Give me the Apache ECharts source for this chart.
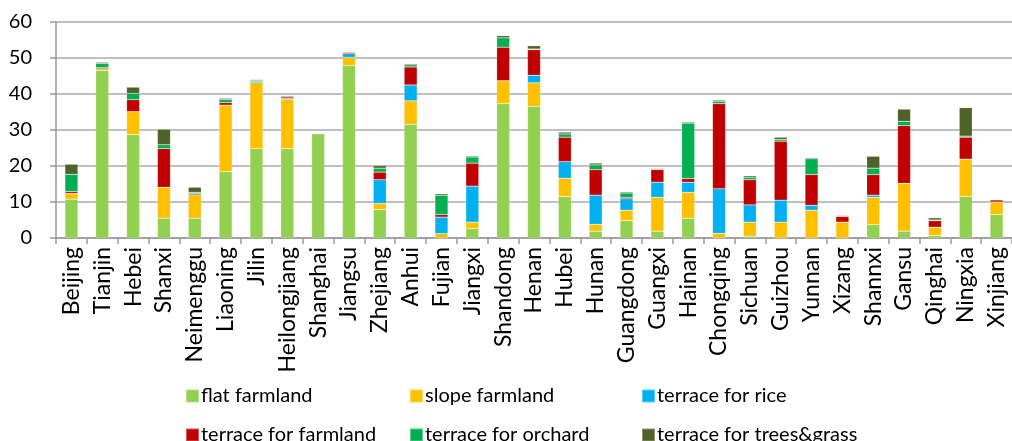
<!DOCTYPE html>
<html><head><meta charset="utf-8">
<script src="https://cdn.jsdelivr.net/npm/echarts@6/dist/echarts.min.js"></script>
<style>html,body{margin:0;padding:0;background:#fff}#c{width:1012px;height:441px}</style>
</head><body><div id="c"></div>
<script>
const categories = ["Beijing","Tianjin","Hebei","Shanxi","Neimenggu","Liaoning","Jilin","Heilongjiang","Shanghai","Jiangsu","Zhejiang","Anhui","Fujian","Jiangxi","Shandong","Henan","Hubei","Hunan","Guangdong","Guangxi","Hainan","Chongqing","Sichuan","Guizhou","Yunnan","Xizang","Shannxi","Gansu","Qinghai","Ningxia","Xinjiang"];
const flatFarmland   = [10.8,46.5,28.7,5.5,5.5,18.4,24.8,24.8,29.0,47.9,7.9,31.6,0,2.6,37.3,36.6,11.5,1.9,4.8,1.9,5.5,0,0.5,0,0,0,3.7,1.9,0.7,11.5,6.5];
const slopeFarmland  = [1.6,0.5,6.4,8.6,6.5,18.5,18.3,13.8,0,2.3,1.7,6.5,1.2,1.8,6.4,6.5,5.1,1.9,2.9,9.4,7.2,1.3,3.9,4.4,7.7,4.4,7.6,13.3,2.3,10.4,3.5];
const terraceRice    = [0,0,0,0,0,0,0.4,0.3,0,1.0,6.6,4.4,4.6,10.0,0,2.1,4.6,8.1,3.2,4.2,2.8,12.4,4.8,6.1,1.4,0,0.6,0,0,0,0];
const terraceFarm    = [0.5,0.3,3.3,10.7,0.3,0.7,0,0.5,0,0.4,2.1,5.0,0.7,6.4,9.3,7.1,6.8,7.1,0.4,3.5,1.0,23.6,7.0,16.4,8.5,1.6,5.7,16.0,1.8,6.1,0.6];
const terraceOrchard = [4.8,1.2,1.8,1.1,0.4,0.9,0.2,0,0,0,1.1,0.6,5.4,1.7,2.6,0.2,0.9,1.3,1.2,0.2,15.4,0.7,0.7,0.5,4.4,0.1,1.8,1.2,0.2,0.3,0];
const terraceTrees   = [2.8,0.3,1.7,4.3,1.4,0.3,0.3,0,0,0,0.7,0.3,0.4,0.3,0.6,0.9,0.5,0.5,0.3,0.2,0.3,0.3,0.4,0.6,0.3,0.2,3.3,3.4,0.6,7.9,0];
const seriesNames = ["flat farmland","slope farmland","terrace for rice","terrace for farmland","terrace for orchard","terrace for trees&grass"];
const seriesColors = ["#92D050","#FFC000","#00B0F0","#C00000","#00B050","#4F6228"];
const seriesData = [flatFarmland,slopeFarmland,terraceRice,terraceFarm,terraceOrchard,terraceTrees];

const font = "Lato";
const chart = echarts.init(document.getElementById('c'), null, {renderer:'canvas'});
const legendPos = [[185,386],[409,386],[641,386],[185,425],[409,425],[641,425]];
chart.setOption({
  animation:false,
  textStyle:{fontFamily:font},
  grid:{left:56, top:22, width:960, bottom:203, containLabel:false},
  legend: seriesNames.map((n,i)=>({
    data:[n], left:legendPos[i][0], top:legendPos[i][1], itemWidth:13, itemHeight:13, padding:0,
    icon:'rect', textStyle:{fontFamily:font, fontSize:20, color:'#000', padding:[0,0,0,-3]}, selectedMode:false
  })),
  xAxis:{type:'category', data:categories,
    axisLine:{lineStyle:{color:'#999', width:1.5}},
    axisTick:{show:true, length:6, lineStyle:{color:'#999', width:1.5}, alignWithLabel:false},
    axisLabel:{rotate:90, fontFamily:font, fontSize:23, color:'#000', margin:9, interval:0}},
  yAxis:{type:'value', min:0, max:60, interval:10,
    axisLine:{show:true, lineStyle:{color:'#999', width:1.5}},
    axisTick:{show:true, length:6, lineStyle:{color:'#999', width:1.5}},
    splitLine:{lineStyle:{color:'#aaa', width:1.5}},
    axisLabel:{fontFamily:font, fontSize:20, color:'#000', margin:24}},
  series: seriesNames.map((n,i)=>({
    name:n, type:'bar', stack:'total', data:seriesData[i], barWidth:13,
    itemStyle:{color:seriesColors[i], borderColor:'rgba(255,255,255,0.35)', borderWidth:0.5}
  }))
});
</script></body></html>
